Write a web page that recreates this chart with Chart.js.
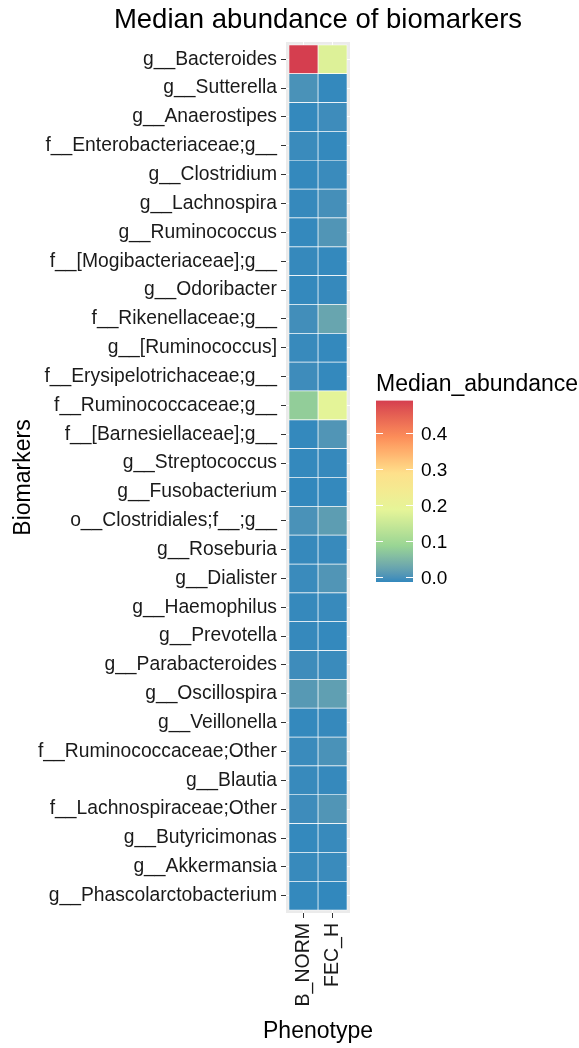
<!DOCTYPE html>
<html>
<head>
<meta charset="utf-8">
<script src="https://cdn.jsdelivr.net/npm/chart.js@4.4.0/dist/chart.umd.min.js"></script>
<style>
  html, body { margin: 0; padding: 0; background: #fff; }
  #wrap { width: 579px; height: 1048px; }
</style>
</head>
<body>
<div id="wrap"><canvas id="chart"></canvas></div>
<script>
// rows, top to bottom
const biomarkers = [
    'g__Bacteroides', 'g__Sutterella', 'g__Anaerostipes', 'f__Enterobacteriaceae;g__',
    'g__Clostridium', 'g__Lachnospira', 'g__Ruminococcus', 'f__[Mogibacteriaceae];g__',
    'g__Odoribacter', 'f__Rikenellaceae;g__', 'g__[Ruminococcus]', 'f__Erysipelotrichaceae;g__',
    'f__Ruminococcaceae;g__', 'f__[Barnesiellaceae];g__', 'g__Streptococcus', 'g__Fusobacterium',
    'o__Clostridiales;f__;g__', 'g__Roseburia', 'g__Dialister', 'g__Haemophilus',
    'g__Prevotella', 'g__Parabacteroides', 'g__Oscillospira', 'g__Veillonella',
    'f__Ruminococcaceae;Other', 'g__Blautia', 'f__Lachnospiraceae;Other', 'g__Butyricimonas',
    'g__Akkermansia', 'g__Phascolarctobacterium'
];
const phenotypes = ['B_NORM', 'FEC_H'];

const bNorm = [
    0.490, 0.015, 0.003, 0.006, 0.003, 0.004, 0.003, 0.004, 0.003, 0.010,
    0.005, 0.008, 0.090, 0.003, 0.003, 0.002, 0.015, 0.004, 0.006, 0.004,
    0.004, 0.008, 0.025, 0.003, 0.006, 0.005, 0.008, 0.003, 0.005, 0.003
];
const fecH = [
    0.185, 0.003, 0.008, 0.003, 0.006, 0.012, 0.020, 0.003, 0.004, 0.040,
    0.003, 0.003, 0.195, 0.020, 0.004, 0.003, 0.030, 0.005, 0.020, 0.005,
    0.003, 0.006, 0.032, 0.004, 0.015, 0.004, 0.020, 0.005, 0.006, 0.002
];

const legendTicks = [0.0, 0.1, 0.2, 0.3, 0.4];
const palette = ['#3288BD', '#99D594', '#E6F598', '#FEE08B', '#FC8D59', '#D53E4F'];

const allValues = bNorm.concat(fecH);
const vMin = Math.min(...allValues);
const vMax = Math.max(...allValues);

// colour interpolation in Lab, like ggplot
function toLin(c) { c /= 255; return c <= 0.04045 ? c / 12.92 : Math.pow((c + 0.055) / 1.055, 2.4); }
function fromLin(c) { c = c <= 0.0031308 ? 12.92 * c : 1.055 * Math.pow(c, 1 / 2.4) - 0.055; return Math.round(Math.max(0, Math.min(1, c)) * 255); }
function hexToLab(hex) {
    const r = toLin(parseInt(hex.slice(1, 3), 16)), g = toLin(parseInt(hex.slice(3, 5), 16)), b = toLin(parseInt(hex.slice(5, 7), 16));
    let x = (r * 0.4124 + g * 0.3576 + b * 0.1805) / 0.95047;
    let y = (r * 0.2126 + g * 0.7152 + b * 0.0722);
    let z = (r * 0.0193 + g * 0.1192 + b * 0.9505) / 1.08883;
    const f = t => t > 0.008856 ? Math.cbrt(t) : 7.787 * t + 16 / 116;
    x = f(x); y = f(y); z = f(z);
    return [116 * y - 16, 500 * (x - y), 200 * (y - z)];
}
function labToRgb(lab) {
    const fy = (lab[0] + 16) / 116, fx = fy + lab[1] / 500, fz = fy - lab[2] / 200;
    const inv = t => t * t * t > 0.008856 ? t * t * t : (t - 16 / 116) / 7.787;
    const x = inv(fx) * 0.95047, y = inv(fy), z = inv(fz) * 1.08883;
    const r = x * 3.2406 + y * -1.5372 + z * -0.4986;
    const g = x * -0.9689 + y * 1.8758 + z * 0.0415;
    const b = x * 0.0557 + y * -0.2040 + z * 1.0570;
    return 'rgb(' + fromLin(r) + ',' + fromLin(g) + ',' + fromLin(b) + ')';
}
const paletteLab = palette.map(hexToLab);
function colourFor(v) {
    let t = (v - vMin) / (vMax - vMin);
    t = Math.max(0, Math.min(1, t)) * (paletteLab.length - 1);
    const i = Math.min(Math.floor(t), paletteLab.length - 2);
    const f = t - i;
    const a = paletteLab[i], b = paletteLab[i + 1];
    return labToRgb([a[0] + (b[0] - a[0]) * f, a[1] + (b[1] - a[1]) * f, a[2] + (b[2] - a[2]) * f]);
}

const font = "'Liberation Sans', Arial, sans-serif";

function makeDataset(label, values, col) {
    return {
        label: label,
        data: values.map((v, i) => ({ y: i, x: [col - 0.5, col + 0.5] })),
        backgroundColor: values.map(colourFor),
        borderColor: '#ffffff',
        borderWidth: 0.7,
        borderSkipped: false,
        grouped: false,
        barPercentage: 1,
        categoryPercentage: 1
    };
}

// grey panel behind the tiles
const panelBg = {
    id: 'panelBg',
    beforeDraw(chart) {
        const { ctx, chartArea: a } = chart;
        ctx.save();
        ctx.fillStyle = '#EBEBEB';
        ctx.fillRect(a.left, a.top, a.right - a.left, a.bottom - a.top);
        ctx.restore();
    }
};

// titles + colourbar legend
const extras = {
    id: 'extras',
    afterDraw(chart) {
        const { ctx, chartArea: a } = chart;
        const cx = (a.left + a.right) / 2;
        ctx.save();
        ctx.fillStyle = '#000';
        ctx.textAlign = 'center';
        ctx.textBaseline = 'alphabetic';
        ctx.font = '27.5px ' + font;
        ctx.fillText('Median abundance of biomarkers', cx, 28);

        ctx.textBaseline = 'middle';
        ctx.font = '23px ' + font;
        ctx.fillText('Phenotype', cx, 1032);

        const barX = a.right + 26, barW = 37;
        const y0 = 577, pxPerUnit = 360; // value 0 at y0
        const yTop = y0 - vMax * pxPerUnit;
        const yBot = 582;

        ctx.textAlign = 'left';
        ctx.textBaseline = 'alphabetic';
        ctx.fillText('Median_abundance', barX, 391);

        const grad = ctx.createLinearGradient(0, yBot, 0, yTop);
        for (let k = 0; k <= 40; k++) {
            grad.addColorStop(k / 40, colourFor(vMin + (vMax - vMin) * k / 40));
        }
        ctx.fillStyle = grad;
        ctx.fillRect(barX, yTop, barW, yBot - yTop);

        ctx.strokeStyle = '#ffffff';
        ctx.lineWidth = 1;
        ctx.font = '19px ' + font;
        ctx.textBaseline = 'middle';
        legendTicks.forEach(t => {
            const y = Math.round(y0 - t * pxPerUnit) + 0.5;
            ctx.beginPath();
            ctx.moveTo(barX, y); ctx.lineTo(barX + 7, y);
            ctx.moveTo(barX + barW - 7, y); ctx.lineTo(barX + barW, y);
            ctx.stroke();
            ctx.fillStyle = '#000';
            ctx.fillText(t.toFixed(1), barX + 45, y + 1);
        });
        ctx.restore();
    }
};

new Chart(document.getElementById('chart'), {
    type: 'bar',
    data: {
        datasets: [
            makeDataset(phenotypes[0], bNorm, 0),
            makeDataset(phenotypes[1], fecH, 1)
        ]
    },
    options: {
        indexAxis: 'y',
        responsive: true,
        maintainAspectRatio: false,
        animation: false,
        layout: { padding: { top: 42, right: 229, left: 0, bottom: 0 } },
        plugins: {
            legend: { display: false },
            tooltip: { enabled: false },
            title: { display: false }
        },
        scales: {
            x: {
                type: 'linear',
                min: -0.6,
                max: 1.6,
                afterBuildTicks(scale) {
                    scale.ticks = phenotypes.map((p, i) => ({ value: i }));
                },
                afterFit(scale) { scale.height = 135; },
                ticks: {
                    callback: (v) => phenotypes[v],
                    autoSkip: false,
                    minRotation: 90,
                    maxRotation: 90,
                    color: '#1a1a1a',
                    padding: 5,
                    font: { family: font, size: 19.5 }
                },
                grid: { color: '#ffffff', lineWidth: 1, tickColor: '#333333', tickLength: 5, tickWidth: 1 },
                border: { display: false }
            },
            y: {
                type: 'linear',
                reverse: true,
                offset: false,
                min: -0.6,
                max: biomarkers.length - 0.4,
                afterBuildTicks(scale) {
                    scale.ticks = biomarkers.map((b, i) => ({ value: i }));
                },
                afterFit(scale) { scale.width = 286; },
                ticks: {
                    callback: (v) => biomarkers[v],
                    autoSkip: false,
                    color: '#1a1a1a',
                    padding: 4,
                    font: { family: font, size: 19.3 }
                },
                grid: { offset: false, color: '#ffffff', lineWidth: 1, tickColor: '#333333', tickLength: 5, tickWidth: 1 },
                border: { display: false },
                title: {
                    display: true,
                    text: 'Biomarkers',
                    color: '#000',
                    font: { family: font, size: 23 },
                    padding: { top: 10, bottom: 0 }
                }
            }
        }
    },
    plugins: [panelBg, extras]
});
</script>
</body>
</html>
